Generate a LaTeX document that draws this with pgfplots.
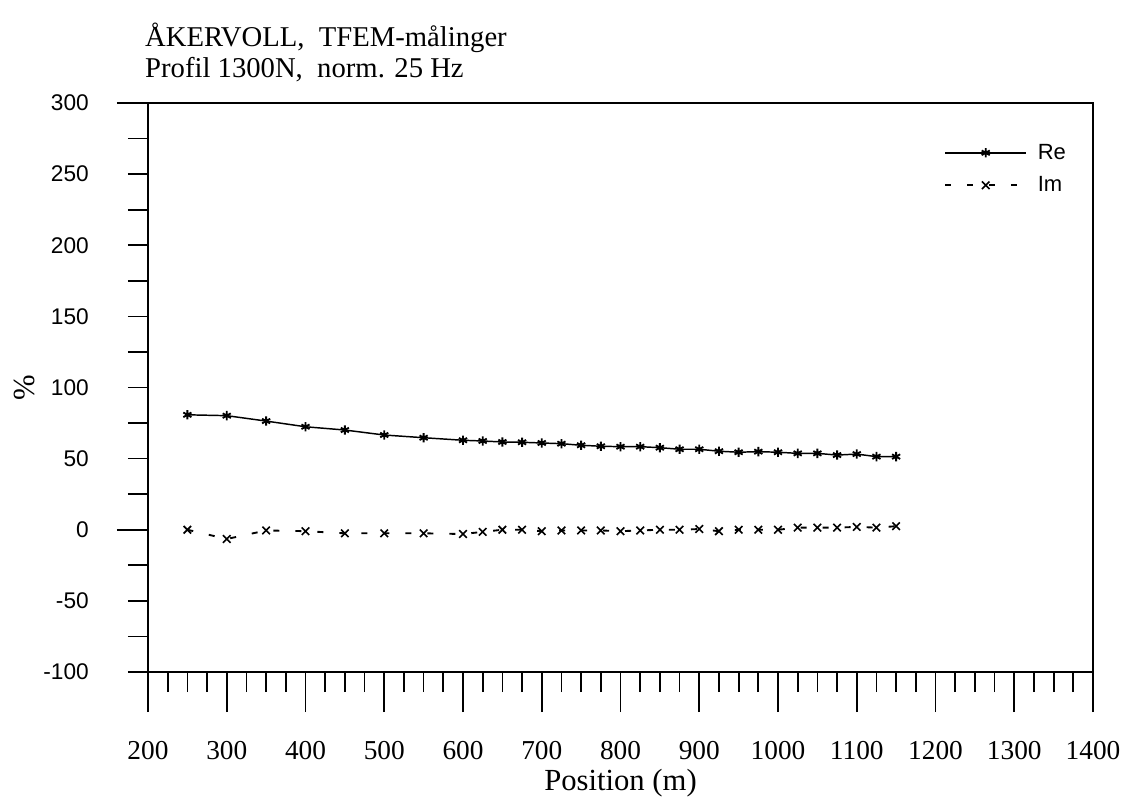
\documentclass[border=0pt]{standalone}
\usepackage{fontspec}
\setmainfont{Liberation Serif}
\setsansfont{Liberation Sans}
\usepackage{pgfplots}
\usepackage{pgfplotstable}
\pgfplotsset{compat=1.18}

\pgfplotstableread{
x re
250 80.8
300 80.2
350 76.4
400 72.4
450 70.1
500 66.6
550 64.7
600 62.9
625 62.4
650 61.7
675 61.5
700 61.0
725 60.5
750 59.4
775 58.7
800 58.4
825 58.4
850 57.7
875 56.6
900 56.6
925 55.2
950 54.5
975 54.9
1000 54.5
1025 53.7
1050 53.7
1075 52.5
1100 53.2
1125 51.4
1150 51.4
}\redata

\pgfplotstableread{
x im
250 0
300 -6.5
350 -0.5
400 -1
450 -2.5
500 -2.5
550 -2.5
600 -3
625 -1.5
650 0
675 0
700 -1
725 -0.5
750 -0.5
775 -0.5
800 -1
825 -0.5
850 0
875 0
900 0.5
925 -1
950 0
975 0
1000 0
1025 1.5
1050 1.5
1075 1.5
1100 2
1125 1.5
1150 2.5
}\imdata

\begin{document}
\begin{tikzpicture}
\pgfplotsset{base/.style={
  scale only axis, width=708.75pt, height=426.75pt,
  xmin=200, xmax=1400, ymin=-100, ymax=300,
  tick align=outside,
  /pgf/number format/assume math mode=true,
  tick style={line width=1.3pt, black},
  clip=false,
}}
% main axis: box, x ticks, data
\begin{axis}[base, name=ax,
  axis line style={line width=1.5pt},
  xtick={200,300,...,1400},
  xticklabels={200,300,400,500,600,700,800,900,1000,1100,1200,1300,1400},
  minor x tick num=3,
  xtick pos=left,
  ytick=\empty,
  major tick length=30pt, minor tick length=15pt,
  xticklabel style={font=\fontsize{20.5}{20.5}\selectfont, anchor=north, inner sep=0pt, yshift=-21.5pt},
  xlabel={Position (m)},
  xlabel style={at={(axis description cs:0.5,-0.2080)}, anchor=base, font=\fontsize{23}{23}\selectfont},
  ylabel={\%},
  ylabel style={at={(axis description cs:-0.1302,0.5)}, anchor=center, font=\fontsize{23}{23}\selectfont},
  legend style={at={(axis description cs:0.8423,0.928)}, anchor=north west, draw=none, fill=none,
    font=\sffamily\fontsize{16.5}{16.5}\selectfont, inner sep=0pt, row sep=11.5pt, column sep=8pt,
    nodes={inner sep=0pt}, cells={anchor=west}},
  legend image code/.code={\draw[mark repeat=2, mark phase=2, #1] plot coordinates {(0pt,0pt) (30.4pt,0pt) (60.75pt,0pt)};},
]
\addplot[black, line width=1.1pt, mark=asterisk, mark size=3.5pt, mark options={solid, line width=1.4pt}] table[x=x, y=re] {\redata};
\addlegendentry{Re}
\addplot[black, line width=1.4pt, dash pattern=on 4.5pt off 12pt, mark=x, mark size=4pt, mark options={solid, line width=1.2pt}] table[x=x, y=im] {\imdata};
\addlegendentry{Im}
\node[anchor=base west, inner sep=0pt, font=\fontsize{21.5}{21.5}\selectfont] at (axis description cs:-0.0032,1.0985) {ÅKERVOLL,~ TFEM-målinger};
\node[anchor=base west, inner sep=0pt, font=\fontsize{21.5}{21.5}\selectfont] at (axis description cs:-0.0032,1.0440) {Profil 1300N,~ norm. 25 Hz};
\end{axis}
% y ticks
\begin{axis}[base,
  axis line style={draw=none},
  xtick=\empty,
  ytick={-100,-50,...,300},
  yticklabels={-100,-50,0,50,100,150,200,250,300},
  minor y tick num=1,
  ytick pos=left,
  major tick length=15pt, minor tick length=15pt,
  yticklabel style={font=\sffamily\fontsize{17}{17}\selectfont, anchor=east, inner sep=0pt, xshift=-29.25pt},
]
\end{axis}
% long ticks at 0 and 300
\begin{axis}[base,
  axis line style={draw=none},
  xtick=\empty,
  ytick={0,300}, yticklabels={},
  ytick pos=left,
  major tick length=23.25pt,
]
\end{axis}
\pgfresetboundingbox
\path[use as bounding box] ([xshift=-111pt,yshift=-97.5pt]ax.south west) rectangle ([xshift=27.75pt,yshift=77.25pt]ax.north east);
\end{tikzpicture}
\end{document}
